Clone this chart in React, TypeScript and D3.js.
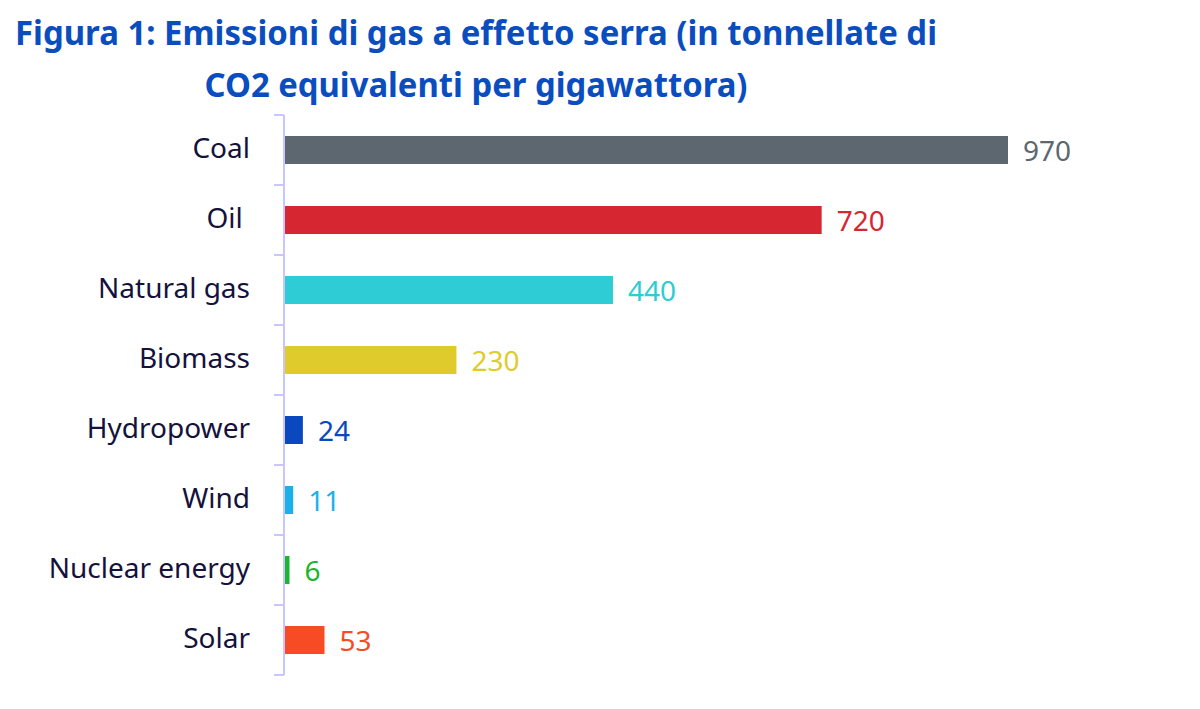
import * as d3 from "d3";

const categories = ["Coal", "Oil", "Natural gas", "Biomass", "Hydropower", "Wind", "Nuclear energy", "Solar"];
const values = [970, 720, 440, 230, 24, 11, 6, 53];
const colors = ["#5c6770", "#d62631", "#2ecdd5", "#dfcb2b", "#0b48c0", "#1ab1ea", "#1cb52e", "#f74b25"];
const titleLines = [
    "Figura 1: Emissioni di gas a effetto serra (in tonnellate di",
    "CO2 equivalenti per gigawattora)",
];

const width = 1200;
const height = 709;
const marginLeft = 285;
const marginTop = 115;
const marginBottom = 34;
const font = "'Source Sans Pro', 'Noto Sans', sans-serif";

export default function App() {
    const x = d3.scaleLinear()
        .domain([0, 970])
        .range([marginLeft, 1008]);

    const y = d3.scaleBand()
        .domain(categories)
        .range([marginTop, height - marginBottom])
        .paddingInner(0.6)
        .paddingOuter(0.3);

    const step = y.step();
    // tick marks sit on the band boundaries
    const ticks = d3.range(categories.length + 1).map(i => marginTop + i * step);

    return (
        <svg
            width={width}
            height={height}
            viewBox={`0 0 ${width} ${height}`}
            style={{ position: "absolute", left: 0, top: 0, background: "#fff" }}
        >
            <g fontFamily={font} fontWeight="bold" fill="#0a4dbf" textAnchor="middle">
                <text x={476} y={45} fontSize={34} textLength={922} lengthAdjust="spacingAndGlyphs">{titleLines[0]}</text>
                <text x={476} y={97} fontSize={34} textLength={543} lengthAdjust="spacingAndGlyphs">{titleLines[1]}</text>
            </g>

            <line x1={marginLeft - 1} x2={marginLeft - 1} y1={ticks[0]} y2={ticks[ticks.length - 1]} stroke="#c8c5ff" strokeWidth={2} />
            {ticks.map((t, i) => (
                <line key={i} x1={marginLeft - 11} x2={marginLeft - 1} y1={t} y2={t} stroke="#c8c5ff" strokeWidth={2} />
            ))}

            {categories.map((c, i) => {
                const cy = (y(c) ?? 0) + y.bandwidth() / 2;
                return (
                    <g key={c} fontFamily={font} fontSize={28}>
                        <rect
                            x={marginLeft}
                            y={y(c)}
                            width={x(values[i]) - marginLeft}
                            height={y.bandwidth()}
                            fill={colors[i]}
                        />
                        <text
                            x={250}
                            y={cy}
                            dy="0.27em"
                            textAnchor="end"
                            fill="#14123d"
                            style={{ whiteSpace: "pre" }}
                        >
                            {c === "Oil" ? "Oil " : c}
                        </text>
                        <text x={x(values[i]) + 15} y={cy} dy="0.4em" fill={colors[i]}>
                            {values[i]}
                        </text>
                    </g>
                );
            })}
        </svg>
    );
}
